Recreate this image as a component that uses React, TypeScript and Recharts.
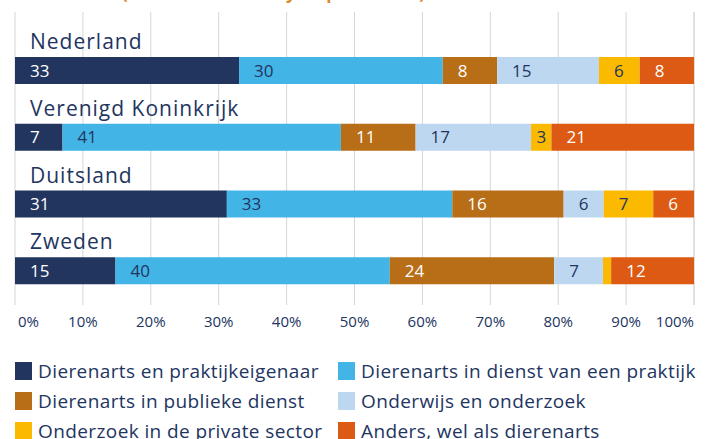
import { Bar, BarChart, CartesianGrid, LabelList, Legend, XAxis, YAxis } from "recharts"

// werkzaamheden van dierenartsen per land, aandeel in %
const countries = ["Nederland", "Verenigd Koninkrijk", "Duitsland", "Zweden"]
const praktijkeigenaar = [33, 7, 31.2, 14.8]
const dienstPraktijk = [30, 41, 33.2, 40.4]
const publiekeDienst = [8, 11, 16.4, 24.2]
const onderwijs = [15, 17, 5.9, 7.2]
const privateSector = [6, 3, 7.3, 1.2]
const anders = [8, 21, 6, 12.2]
const xTicks = [0, 10, 20, 30, 40, 50, 60, 70, 80, 90, 100]

const SERIES = [
  { key: "praktijkeigenaar", name: "Dierenarts en praktijkeigenaar", values: praktijkeigenaar, color: "#22355f", text: "#ffffff" },
  { key: "dienstPraktijk", name: "Dierenarts in dienst van een praktijk", values: dienstPraktijk, color: "#42b4e5", text: "#22355f" },
  { key: "publiekeDienst", name: "Dierenarts in publieke dienst", values: publiekeDienst, color: "#b86e17", text: "#ffffff" },
  { key: "onderwijs", name: "Onderwijs en onderzoek", values: onderwijs, color: "#bdd7f1", text: "#22355f" },
  { key: "privateSector", name: "Onderzoek in de private sector", values: privateSector, color: "#fbb900", text: "#22355f" },
  { key: "anders", name: "Anders, wel als dierenarts", values: anders, color: "#dc5a13", text: "#ffffff" },
]

const data = countries.map((country, i) => {
  const row: any = { country }
  SERIES.forEach((s) => (row[s.key] = s.values[i]))
  return row
})

const FONT = "'Open Sans', sans-serif"
const NAVY = "#22355f"

// country name sits above its bar, slightly indented
const countryLabel = (props: any) => {
  const { x, y, value } = props
  return (
    <text x={x + 15} y={y - 8} fill={NAVY} fontSize={21} letterSpacing={1} fontFamily={FONT}>
      {value}
    </text>
  )
}

function PctTick({ x, y, payload, index }: any) {
  const anchor = index === 0 ? "start" : index === xTicks.length - 1 ? "end" : "middle"
  const dx = index === 0 ? 3 : 0
  return (
    <text x={x + dx} y={y + 14} textAnchor={anchor} fill={NAVY} fontSize={15} fontFamily={FONT}>
      {payload.value}%
    </text>
  )
}

const segLabel = (color: string) => (props: any) => {
  const { x, y, width, height, value } = props
  if (value < 2) return null
  const txt = String(Math.round(value))
  const tw = txt.length * 9.5
  const dx = Math.min(15, (width - tw) / 2)
  return (
    <text x={x + dx} y={y + height / 2 + 6} fill={color} fontSize={17} fontFamily={FONT}>
      {txt}
    </text>
  )
}

function LegendBox() {
  return (
    <div
      style={{
        display: "grid",
        gridTemplateColumns: "323px 360px",
        rowGap: 12,
        paddingTop: 27,
        fontFamily: FONT,
        fontSize: 19,
        letterSpacing: 0.4,
        color: NAVY,
        lineHeight: "18px",
      }}
    >
      {SERIES.map((s) => (
        <div key={s.key} style={{ display: "flex", alignItems: "center", whiteSpace: "nowrap" }}>
          <span style={{ width: 17, height: 18, background: s.color, marginRight: 6, flex: "none" }} />
          {s.name}
        </div>
      ))}
    </div>
  )
}

export default function App() {
  return (
    <div style={{ position: "absolute", left: 0, top: 0, width: 709, height: 439, overflow: "hidden", background: "#fff" }}>
      <div
        style={{
          position: "absolute",
          left: 122,
          top: -19,
          fontFamily: FONT,
          fontWeight: 700,
          fontSize: 17,
          color: "#d9892f",
          whiteSpace: "nowrap",
        }}
      >
        (in % van alle survey respondenten)
      </div>
      <BarChart
        width={709}
        height={439}
        data={data}
        layout="vertical"
        margin={{ top: 12, right: 15, bottom: 0, left: 15 }}
        barSize={27}
      >
        <CartesianGrid horizontal={false} stroke="#d6d6d6" />
        <XAxis
          type="number"
          domain={[0, 100]}
          ticks={xTicks}
          interval={0}
          height={30}
          axisLine={false}
          tickLine={false}
          tick={<PctTick />}
        />
        <YAxis
          type="category"
          dataKey="country"
          width={0}
          hide
          padding={{ top: 25, bottom: 1 }}
        />
        <Legend verticalAlign="bottom" height={104} content={<LegendBox />} />
        {SERIES.map((s, i) => (
          <Bar key={s.key} dataKey={s.key} name={s.name} stackId="a" fill={s.color} isAnimationActive={false}>
            <LabelList dataKey={s.key} content={segLabel(s.text)} />
            {i === 0 && <LabelList dataKey="country" content={countryLabel} />}
          </Bar>
        ))}
      </BarChart>
    </div>
  )
}
